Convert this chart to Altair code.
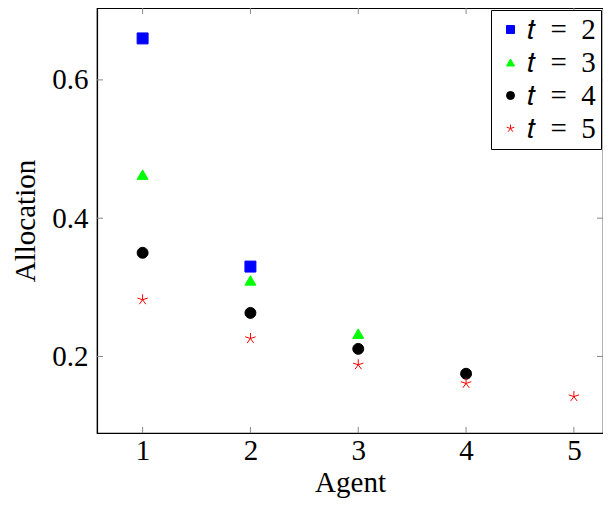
import altair as alt
import pandas as pd

# ---- data ----
agents = [1, 2, 3, 4, 5]
series_labels = ["𝑡\u00a0 =\u00a0 2", "𝑡\u00a0 =\u00a0 3", "𝑡\u00a0 =\u00a0 4", "𝑡\u00a0 =\u00a0 5"]
t2 = [0.660, 0.330]
t3 = [0.463, 0.310, 0.233]
t4 = [0.350, 0.263, 0.211, 0.175]
t5 = [0.282, 0.226, 0.188, 0.161, 0.142]
x_ticks = [1, 2, 3, 4, 5]
y_ticks = [0.2, 0.4, 0.6]

rows = []
for lab, vals in zip(series_labels, [t2, t3, t4, t5]):
    for a, v in zip(agents, vals):
        rows.append({"agent": a, "alloc": v, "series": lab})
df = pd.DataFrame(rows)

W, H = 506, 425
FONT = "Liberation Serif"
FS = 29
xs = alt.Scale(domain=[0.577, 5.27], nice=False, zero=False)
ys = alt.Scale(domain=[0.0893, 0.704], nice=False, zero=False)

star = ("M0,-1L0,0M0.951,-0.309L0,0M0.588,0.809L0,0"
        "M-0.588,0.809L0,0M-0.951,-0.309L0,0")

legend = alt.Legend(title=None, orient="top-right", offset=2,
                    labelFont=FONT, labelFontSize=FS, labelColor="black",
                    symbolSize=64, symbolStrokeWidth=1, rowPadding=3, padding=5,
                    labelOffset=2, strokeColor="black", fillColor="white")

points = alt.Chart(df).mark_point(strokeWidth=1, opacity=1).encode(
    x=alt.X("agent:Q", scale=xs, title="Agent",
            axis=alt.Axis(values=x_ticks, ticks=False, labelPadding=3, titlePadding=3,
                          grid=False, format="d", labelFont=FONT, titleFont=FONT,
                          labelFontSize=FS, titleFontSize=FS)),
    y=alt.Y("alloc:Q", scale=ys, title="Allocation",
            axis=alt.Axis(values=y_ticks, ticks=False, labelPadding=9, titlePadding=11,
                          grid=False, format=".1f", labelFont=FONT, titleFont=FONT,
                          labelFontSize=FS, titleFontSize=FS)),
    shape=alt.Shape("series:N", scale=alt.Scale(domain=series_labels,
                    range=["square", "triangle-up", "circle", star]), legend=legend),
    fill=alt.Fill("series:N", scale=alt.Scale(domain=series_labels,
                  range=["#0000ff", "#00ff00", "#000000", "transparent"]), legend=legend),
    stroke=alt.Stroke("series:N", scale=alt.Scale(domain=series_labels,
                      range=["#0000ff", "#00ff00", "#000000", "#ff0000"]), legend=legend),
    size=alt.value(120),
)

tickdf_x = pd.DataFrame({"v": x_ticks})
tickdf_y = pd.DataFrame({"v": y_ticks})
tc = "#888888"
xb = alt.Chart(tickdf_x).mark_rule(color=tc).encode(
    x=alt.X("v:Q", scale=xs), y=alt.value(H), y2=alt.value(H - 6))
xt = alt.Chart(tickdf_x).mark_rule(color=tc).encode(
    x=alt.X("v:Q", scale=xs), y=alt.value(0), y2=alt.value(6))
yl = alt.Chart(tickdf_y).mark_rule(color=tc).encode(
    y=alt.Y("v:Q", scale=ys), x=alt.value(0), x2=alt.value(6))
yr = alt.Chart(tickdf_y).mark_rule(color=tc).encode(
    y=alt.Y("v:Q", scale=ys), x=alt.value(W), x2=alt.value(W - 6))

chart = alt.layer(points, xb, xt, yl, yr).properties(
    width=W, height=H,
    autosize=alt.AutoSizeParams(type="none"),
    padding={"left": 89, "top": 0, "right": 0, "bottom": 65},
).configure_view(stroke="black", strokeWidth=1.2).configure_axis(
    labelColor="black", titleColor="black", titleFontWeight="normal",
    domainColor="black", domainWidth=1.2,
)

chart.save("out.html", embed_options={"renderer": "svg", "actions": False})
